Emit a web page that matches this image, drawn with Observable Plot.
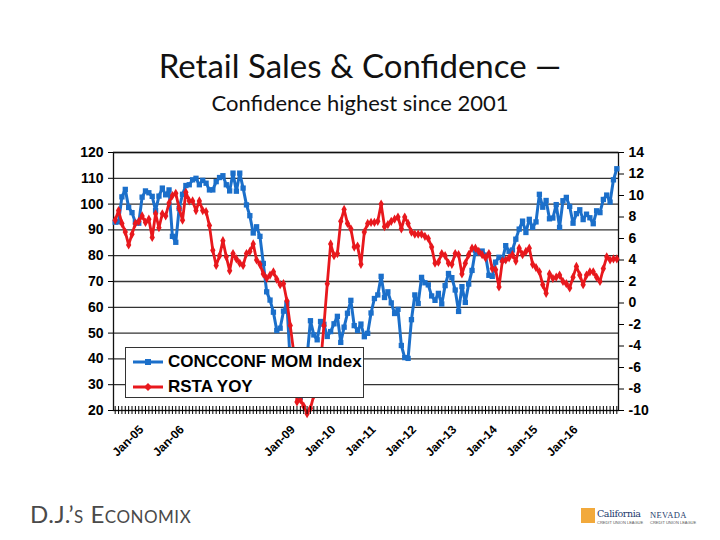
<!DOCTYPE html>
<html><head><meta charset="utf-8">
<script src="https://cdn.jsdelivr.net/npm/d3@7"></script>
<script src="https://cdn.jsdelivr.net/npm/@observablehq/plot@0.6"></script>
<style>
html,body{margin:0;padding:0;background:#fff;}
body{width:720px;height:540px;position:relative;overflow:hidden;}
#title{position:absolute;left:0;top:45px;width:720px;text-align:center;font-family:Lato,"Open Sans",sans-serif;font-size:33px;color:#111;line-height:40px;}
#subtitle{position:absolute;left:0;top:89px;width:720px;text-align:center;font-family:Lato,"Open Sans",sans-serif;font-size:22px;color:#111;line-height:28px;}
#chart{position:absolute;left:0;top:130px;}
#legend{position:absolute;left:125px;top:347px;width:237px;height:49px;border:1.5px solid #333;background:#fff;font-family:"Liberation Sans",Arial,sans-serif;font-weight:bold;font-size:17px;color:#000;}
#legend .row{position:absolute;left:7px;height:22px;display:flex;align-items:center;}
#legend svg{margin-right:5px;}
#footer{position:absolute;left:30px;top:499px;font-family:Lato,sans-serif;font-size:24px;font-variant:small-caps;letter-spacing:0.5px;color:#4a4a4a;}
#logo{position:absolute;left:581px;top:507px;width:120px;height:20px;}
</style></head><body>
<div id="title">Retail Sales &amp; Confidence —</div>
<div id="subtitle">Confidence highest since 2001</div>
<div id="chart"></div>
<div id="legend"></div>
<div id="footer">D.J.’s Economix</div>
<div id="logo">
  <div style="position:absolute;left:0;top:1px;width:14px;height:15px;background:#f2a93b;"></div>
  <div style="position:absolute;left:16px;top:1px;font-family:'DejaVu Serif',serif;font-size:9.5px;color:#233a6b;letter-spacing:-0.4px;">California</div>
  <div style="position:absolute;left:16px;top:13px;font-family:'Liberation Sans',sans-serif;font-size:4px;color:#555;">CREDIT UNION LEAGUE</div>
  <div style="position:absolute;left:69px;top:3px;font-family:'Liberation Serif',serif;font-size:8.5px;color:#233a6b;letter-spacing:0.3px;">NEVADA</div>
  <div style="position:absolute;left:69px;top:13px;font-family:'Liberation Sans',sans-serif;font-size:4px;color:#555;">CREDIT UNION LEAGUE</div>
</div>
<script>
// ---- data ----
const monthNames = ["Jan","Feb","Mar","Apr","May","Jun","Jul","Aug","Sep","Oct","Nov","Dec"];
const firstMonth = {year: 2004, month: 3};   // Apr-04
const lastMonth = {year: 2016, month: 11};   // Dec-16
const skippedMonths = ["Jan-07", "Jan-08", "Nov-08"];
const seriesNames = ["CONCCONF MOM Index", "RSTA YOY"];
const leftTicks = [20, 30, 40, 50, 60, 70, 80, 90, 100, 110, 120];
const rightTicks = [-10, -8, -6, -4, -2, 0, 2, 4, 6, 8, 10, 12, 14];

const concconf = [
  93.0, 93.1, 102.8, 105.7, 98.7, 96.7, 92.9, 92.6, 102.7, 105.1,
  104.4, 103.0, 97.5, 103.1, 106.2, 103.6, 105.5, 87.5, 85.2, 98.3,
  103.8, 107.2, 107.5, 109.4, 110.0, 107.5, 109.2, 108.1, 105.5, 105.5,
  108.7, 110.3, 111.0, 107.5, 105.1, 112.0, 105.0, 112.0, 106.2, 99.7,
  95.5, 88.8, 91.2, 87.5, 77.0, 66.0, 62.8, 58.1, 51.0, 51.9,
  58.5, 61.4, 38.8, 38.6, 37.4, 25.3, 26.9, 40.8, 54.8, 49.3,
  47.4, 54.5, 53.4, 48.7, 50.6, 53.6, 56.5, 46.4, 52.3, 57.7,
  62.7, 52.9, 51.0, 53.5, 48.6, 49.9, 57.8, 63.4, 64.8, 72.0,
  63.8, 66.0, 61.7, 57.6, 59.2, 45.2, 40.5, 40.2, 55.2, 64.8,
  61.5, 71.6, 69.5, 68.7, 64.4, 62.7, 65.4, 61.3, 68.4, 73.1,
  71.5, 66.7, 58.4, 68.0, 61.9, 69.0, 74.3, 82.1, 81.0, 81.8,
  80.2, 72.4, 72.0, 77.5, 79.4, 78.3, 83.9, 81.7, 82.2, 86.4,
  90.3, 93.4, 89.0, 94.1, 91.0, 93.1, 103.8, 98.8, 101.4, 94.3,
  94.6, 99.8, 91.0, 101.3, 102.6, 99.1, 92.6, 96.3, 97.8, 94.0,
  96.1, 94.7, 92.4, 97.4, 96.7, 101.8, 103.5, 100.8, 109.4, 113.7
];
const rstaYoy = [
  7.7, 8.6, 7.4, 6.6, 5.4, 6.4, 7.4, 7.6, 8.1, 7.5,
  7.8, 6.1, 8.3, 7.0, 8.3, 8.1, 9.3, 10.0, 10.2, 8.8,
  7.7, 10.3, 9.5, 9.5, 8.6, 9.5, 8.6, 8.5, 7.2, 4.9,
  3.5, 4.4, 5.8, 4.3, 3.0, 4.6, 4.1, 3.7, 3.5, 4.6,
  4.8, 5.5, 4.0, 3.6, 2.7, 2.3, 2.6, 2.9, 2.2, 1.7,
  1.8, 0.2, -2.1, -4.5, -9.2, -9.0, -9.6, -10.3, -9.8, -8.6,
  -8.2, -5.7, -2.1, 1.8, 5.5, 4.4, 4.6, 7.6, 8.7, 7.4,
  6.9, 5.2, 5.3, 3.6, 6.6, 7.4, 7.5, 7.5, 7.6, 9.2,
  7.1, 7.3, 7.6, 7.8, 8.0, 6.9, 8.0, 7.4, 6.6, 6.4,
  6.4, 6.4, 6.2, 6.0, 5.2, 3.7, 3.8, 4.6, 4.4, 3.7,
  3.6, 4.6, 4.5, 2.7, 3.7, 4.5, 5.1, 5.1, 4.8, 4.5,
  4.2, 4.6, 3.2, 3.1, 1.5, 3.9, 4.0, 4.2, 4.5, 3.9,
  5.1, 4.5, 4.8, 5.1, 3.6, 3.3, 2.9, 1.7, 0.9, 2.7,
  2.3, 2.4, 2.6, 2.0, 1.8, 1.4, 2.4, 3.4, 2.6, 1.7,
  2.6, 2.9, 2.9, 2.4, 2.0, 3.2, 4.3, 4.0, 4.1, 4.1
];

// ---- categories (month labels as on the Excel axis) ----
const categories = [];
for (let y = firstMonth.year, m = firstMonth.month; y < lastMonth.year || (y === lastMonth.year && m <= lastMonth.month); ) {
  const label = monthNames[m] + "-" + String(y % 100).padStart(2, "0");
  if (!skippedMonths.includes(label)) categories.push(label);
  m++; if (m === 12) { m = 0; y++; }
}
const janLabels = categories.filter(d => d.startsWith("Jan"));

const blue = "#1b6fca";
const red = "#e8181d";
// secondary axis (-10..14) mapped onto the primary (20..120)
const toLeft = r => 20 + (r + 10) * 100 / 24;
const fromLeft = v => Math.round((v - 20) * 24 / 100 - 10);

const rows = categories.map((c, i) => ({month: c, conf: concconf[i], retail: toLeft(rstaYoy[i])}));

const chart = Plot.plot({
  width: 720, height: 340,
  marginLeft: 113, marginRight: 102, marginTop: 22, marginBottom: 60,
  style: {fontFamily: "'Liberation Sans', Arial, sans-serif", background: "transparent", color: "#000"},
  x: {type: "point", domain: categories, padding: 0.5},
  y: {domain: [20, 120]},
  marks: [
    Plot.ruleY(leftTicks.filter(t => t > 20), {stroke: "#333", strokeWidth: 1.3}),
    Plot.frame({stroke: "#111", strokeWidth: 1.3}),
    Plot.line(rows, {x: "month", y: "conf", stroke: blue, strokeWidth: 3}),
    Plot.dot(rows, {x: "month", y: "conf", symbol: "square", r: 3, fill: blue}),
    Plot.line(rows, {x: "month", y: "retail", stroke: red, strokeWidth: 2.8}),
    Plot.dot(rows, {x: "month", y: "retail", symbol: "diamond", r: 2.8, fill: red}),
    Plot.axisY(leftTicks, {anchor: "left", tickSize: 5, tickPadding: 5, fontSize: 14, fontWeight: "bold", label: null}),
    Plot.axisY(rightTicks.map(toLeft), {anchor: "right", tickSize: 5, tickPadding: 5, fontSize: 14, fontWeight: "bold", label: null, tickFormat: d => String(fromLeft(d))}),
    Plot.axisX(categories, {anchor: "bottom", tickSize: 8, dy: -4, tickFormat: () => "", label: null}),
    Plot.axisX(janLabels, {anchor: "bottom", tickSize: 0, tickPadding: 17, dx: -4, tickRotate: -45, fontSize: 12, fontWeight: "bold", label: null, tickFormat: d => d})
  ]
});
document.getElementById("chart").appendChild(chart);

// legend
const legend = document.getElementById("legend");
[[seriesNames[0], blue, "square"], [seriesNames[1], red, "diamond"]].forEach(([name, color, sym], i) => {
  const row = document.createElement("div");
  row.className = "row";
  row.style.top = (3 + i * 25) + "px";
  const marker = sym === "square"
    ? `<rect x="12" y="2" width="6" height="6" fill="${color}"/>`
    : `<path d="M15,1 L19,5 L15,9 L11,5 Z" fill="${color}"/>`;
  row.innerHTML = `<svg width="30" height="10"><line x1="0" y1="5" x2="30" y2="5" stroke="${color}" stroke-width="3"/>${marker}</svg><span>${name}</span>`;
  legend.appendChild(row);
});
</script>
</body></html>
